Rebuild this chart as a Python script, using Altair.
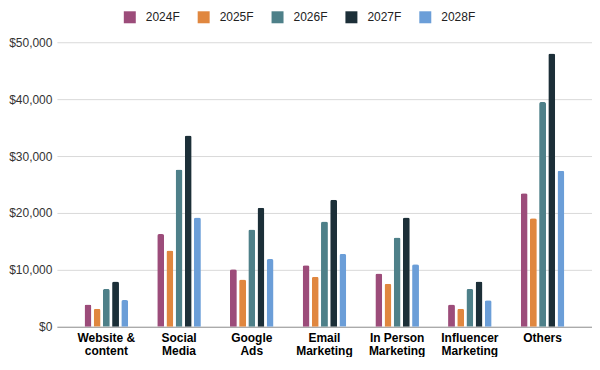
import altair as alt
import pandas as pd

categories = ["Website &|content", "Social|Media", "Google|Ads", "Email|Marketing",
              "In Person|Marketing", "Influencer|Marketing", "Others"]
years = ["2024F", "2025F", "2026F", "2027F", "2028F"]
v2024 = [3900, 16300, 10100, 10800, 9350, 3900, 23450]
v2025 = [3150, 13400, 8300, 8800, 7550, 3150, 19050]
v2026 = [6650, 27650, 17100, 18500, 15700, 6650, 39500]
v2027 = [7950, 33600, 20900, 22300, 19200, 7950, 48000]
v2028 = [4680, 19200, 11900, 12800, 11000, 4650, 27400]
colors = ["#9c4c7a", "#e0873f", "#4e8089", "#1c2f38", "#6b9ed8"]
y_ticks = [0, 10000, 20000, 30000, 40000, 50000]

series = [v2024, v2025, v2026, v2027, v2028]
rows = []
for yr, vals in zip(years, series):
    for c, v in zip(categories, vals):
        rows.append({"category": c, "year": yr, "value": v})
df = pd.DataFrame(rows)

FONT = "Liberation Sans"

chart = alt.Chart(df).mark_bar(
    cornerRadiusTopLeft=2, cornerRadiusTopRight=2
).encode(
    x=alt.X("category:N", sort=categories, title=None,
            scale=alt.Scale(paddingInner=0.4, paddingOuter=0.38),
            axis=alt.Axis(labelAngle=0, labelExpr="split(datum.label, '|')",
                          labelFont=FONT, labelFontSize=12, labelFontWeight="bold",
                          labelColor="#000000", labelLineHeight=13, labelPadding=6,
                          ticks=False, domainColor="#999999", domainWidth=1,
                          labelBaseline="top")),
    xOffset=alt.XOffset("year:N", sort=years, scale=alt.Scale(paddingInner=0.25, paddingOuter=0)),
    y=alt.Y("value:Q", title=None,
            scale=alt.Scale(domain=[0, 50000], nice=False),
            axis=alt.Axis(values=y_ticks, format="$,.0f", labelFont=FONT,
                          labelFontSize=12, labelColor="#333333", labelPadding=5,
                          ticks=False, domain=False, gridColor="#d9d9d9")),
    color=alt.Color("year:N", sort=years,
                    scale=alt.Scale(domain=years, range=colors),
                    legend=alt.Legend(title=None, orient="none", direction="horizontal",
                                      legendX=67, legendY=-31, symbolType="square",
                                      symbolSize=144, symbolStrokeWidth=0,
                                      labelFont=FONT, labelFontSize=12, labelColor="#222222",
                                      labelOffset=10, columnPadding=17, padding=0)),
).properties(
    width=536, height=285,
    padding={"left": 0, "top": 3, "right": 0, "bottom": 0}
).configure_view(stroke=None).configure_axis(labelFont=FONT)

chart.save("out.html", embed_options={"renderer": "svg", "actions": False})
